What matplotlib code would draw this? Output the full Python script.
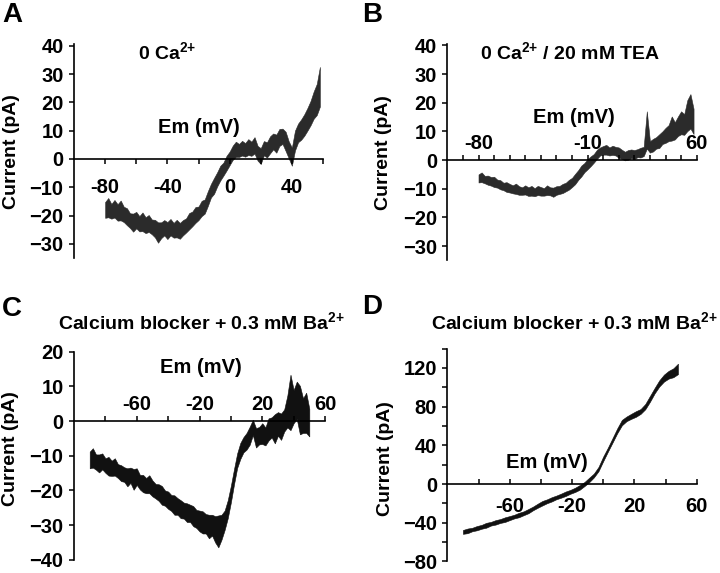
import matplotlib
matplotlib.use("Agg")
import numpy as np
import matplotlib.pyplot as plt

# membrane potential (mV) and current (pA)
# *_mid is the middle of the noisy trace, *_spread is half its thickness

a_mv = list(range(-80, 60, 2))
a_mid = [-18.0, -17.2, -18.5, -17.6, -18.9, -18.2, -19.6, -20.4, -21.8, -22.5,
         -21.6, -22.9, -22.2, -23.4, -22.8, -24.0, -24.6, -26.0, -25.2, -24.3,
         -25.3, -24.1, -25.2, -24.6, -25.4, -24.3, -23.5, -22.0, -21.2, -19.8,
         -19.2, -17.5, -16.8, -14.0, -11.2, -9.5, -7.2, -5.0, -3.6, -1.5,
         0.2, 2.2, 3.4, 3.0, 3.8, 3.2, 4.2, 3.6, 4.8, 2.0,
         1.0, 3.8, 3.2, 5.0, 6.2, 5.4, 7.6, 8.0, 6.2, 3.2,
         0.8, 6.5, 9.2, 10.4, 12.0, 14.0, 16.2, 19.0, 21.0, 25.5]
a_spread = [2.8, 3.4, 2.6, 3.1, 2.9, 3.5, 2.7, 3.0, 2.6, 3.2,
            2.9, 2.7, 3.3, 2.8, 3.0, 2.6, 3.1, 3.6, 2.8, 2.7,
            3.0, 2.9, 2.6, 3.1, 2.8, 2.7, 2.5, 2.9, 2.6, 2.8,
            2.4, 2.7, 2.5, 2.6, 2.4, 2.8, 2.5, 2.6, 2.3, 2.6,
            2.4, 2.5, 2.7, 2.3, 2.6, 2.4, 2.8, 2.5, 2.9, 2.6,
            2.8, 2.5, 2.7, 3.0, 2.8, 3.2, 3.0, 2.7, 3.4, 3.0,
            3.2, 3.5, 3.3, 3.6, 3.8, 4.0, 4.3, 4.8, 5.5, 7.0]

b_mv = list(range(-80, 60, 2))
b_mid = [-6.4, -6.0, -6.8, -7.0, -7.4, -7.6, -8.2, -8.6, -9.2, -9.4,
         -9.8, -10.2, -10.0, -10.6, -10.8, -10.4, -11.0, -10.7, -11.2, -10.6,
         -10.9, -11.1, -10.5, -10.9, -11.2, -10.6, -10.4, -9.9, -9.4, -8.6,
         -7.8, -6.6, -5.2, -3.8, -2.6, -1.4, -0.4, 0.6, 2.0, 3.0,
         3.4, 3.6, 3.0, 3.4, 3.1, 2.6, 2.0, 1.4, 1.8, 2.2,
         1.9, 2.4, 2.6, 3.0, 10.5, 4.6, 5.2, 6.0, 6.6, 7.8,
         8.6, 9.4, 11.0, 10.2, 11.8, 13.0, 12.4, 15.5, 17.0, 13.5]
b_spread = [1.4, 1.7, 1.3, 1.6, 1.5, 1.8, 1.4, 1.6, 1.3, 1.7,
            1.5, 1.4, 1.8, 1.5, 1.3, 1.6, 1.5, 1.7, 1.4, 1.6,
            1.5, 1.3, 1.7, 1.4, 1.6, 1.5, 1.4, 1.6, 1.5, 1.7,
            1.6, 1.8, 1.7, 1.9, 1.6, 1.8, 1.7, 1.5, 1.6, 1.4,
            1.5, 1.7, 1.4, 1.6, 1.5, 1.8, 1.6, 1.5, 1.7, 1.5,
            1.6, 1.4, 1.7, 1.6, 6.5, 2.0, 2.2, 2.0, 2.4, 2.2,
            2.6, 2.8, 4.2, 3.0, 3.4, 4.0, 3.6, 5.4, 6.0, 4.4]

c_mv = list(range(-90, 52, 2))
c_mid = [-11.2, -10.6, -11.8, -12.2, -11.6, -12.8, -13.0, -13.6, -13.2, -14.4,
         -15.0, -15.4, -16.2, -15.6, -16.8, -16.0, -17.6, -18.0, -18.6, -18.2,
         -19.4, -20.2, -20.6, -21.4, -22.2, -22.8, -23.6, -24.2, -24.6, -25.4,
         -25.8, -26.4, -26.6, -27.4, -28.2, -28.8, -29.2, -29.6, -30.4, -30.0,
         -31.2, -31.8, -30.6, -28.6, -25.4, -21.0, -16.0, -11.4, -8.6, -6.8,
         -5.8, -4.2, -1.8, -4.8, -4.2, -3.6, -4.4, -2.4, -1.8, -2.2,
         -0.8, -1.6, 0.2, 2.8, 5.4, 4.2, 6.0, 3.2, 1.6, 2.4,
         -0.4]
c_spread = [2.4, 2.8, 2.2, 2.6, 2.3, 2.1, 2.7, 2.2, 2.5, 2.0,
            2.3, 2.1, 2.6, 2.2, 3.0, 2.4, 2.1, 2.5, 2.2, 2.6,
            2.3, 2.1, 2.4, 2.7, 2.2, 2.5, 2.3, 2.8, 2.4, 2.6,
            2.3, 2.7, 2.5, 2.9, 2.6, 3.0, 3.2, 2.8, 3.4, 3.0,
            3.8, 4.6, 3.6, 2.8, 2.6, 2.4, 2.2, 2.1, 2.3, 2.2,
            2.4, 2.6, 2.2, 2.8, 2.5, 3.0, 2.6, 3.2, 2.9, 4.2,
            3.4, 3.8, 3.2, 4.6, 8.0, 4.8, 5.4, 7.0, 5.0, 5.8,
            4.0]

d_mv = list(range(-90, 49, 3))
d_mid = [-49.5, -48.4, -47.0, -45.6, -44.2, -42.6, -41.0, -39.6, -38.2, -36.8,
         -35.2, -33.6, -32.0, -30.2, -28.0, -25.2, -22.4, -19.8, -17.8, -15.8,
         -13.8, -12.0, -10.0, -8.0, -6.0, -3.4, 0.0, 4.2, 8.8, 15.5,
         26.0, 35.5, 45.2, 55.0, 63.5, 67.4, 70.0, 72.4, 75.0, 80.0,
         88.0, 96.5, 104.0, 109.5, 113.0, 115.0, 119.0]
d_spread = [2.0, 2.4, 1.8, 2.2, 2.0, 2.5, 1.9, 2.3, 2.0, 2.4,
            2.1, 1.9, 2.3, 2.0, 2.2, 1.9, 2.1, 2.3, 2.0, 2.2,
            1.9, 2.1, 2.3, 2.0, 2.2, 2.4, 2.1, 2.3, 2.0, 2.2,
            2.4, 2.1, 2.3, 2.5, 2.8, 2.4, 2.6, 2.9, 2.5, 2.7,
            3.0, 2.8, 3.2, 3.6, 4.0, 4.6, 5.4]

# axis ticks and labels
a_xticks = [-80, -60, -40, -20, 0, 20, 40, 60]
a_xlabels = ["-80", "", "-40", "", "0", "", "40", ""]
b_xticks = [-90, -80, -70, -60, -50, -40, -30, -20, -10, 0, 10, 20, 30, 40, 50, 60]
b_xlabels = ["", "-80", "", "", "", "", "", "", "-10", "", "", "", "", "", "", "60"]
cd_xticks = [-80, -60, -40, -20, 0, 20, 40, 60]
cd_xlabels = ["", "-60", "", "-20", "", "20", "", "60"]
ab_yticks = [-30, -20, -10, 0, 10, 20, 30, 40]
c_yticks = [-40, -30, -20, -10, 0, 10, 20]
d_yticks = [-80, -40, 0, 40, 80, 120]
d_yminor = [-60, -20, 20, 60, 100, 140]

plt.rcParams["font.family"] = "Liberation Sans"
plt.rcParams["font.weight"] = "bold"
plt.rcParams["mathtext.fontset"] = "custom"
plt.rcParams["mathtext.rm"] = "Liberation Sans:bold"
plt.rcParams["mathtext.it"] = "Liberation Sans:bold"
plt.rcParams["mathtext.bf"] = "Liberation Sans:bold"

TICK_FS = 14.5


def draw_panel(ax, mv, mid, spread, ylim, yticks, xticks, xlabels, side, xdir, xpad, color):
    """One I-V panel: noisy trace as a filled band, x axis crossing at 0 pA"""
    lo = np.array(mid) - np.array(spread)
    hi = np.array(mid) + np.array(spread)
    ax.fill_between(mv, lo, hi, color=color, edgecolor=color, linewidth=0.4)

    ax.set_xlim(-100, 60)
    ax.set_ylim(*ylim)
    ax.spines["right"].set_visible(False)
    ax.spines["left"].set_linewidth(1.2)

    if side == "top":
        ax.spines["bottom"].set_visible(False)
        ax.spines["top"].set_position(("data", 0))
        ax.spines["top"].set_linewidth(1.2)
        ax.xaxis.set_ticks_position("top")
    else:
        ax.spines["top"].set_visible(False)
        ax.spines["bottom"].set_position(("data", 0))
        ax.spines["bottom"].set_linewidth(1.2)
        ax.xaxis.set_ticks_position("bottom")

    ax.set_xticks(xticks)
    ax.set_xticklabels(xlabels)
    ax.set_yticks(yticks)
    ax.tick_params(axis="x", direction=xdir, length=3.5, width=1.1, pad=xpad, labelsize=TICK_FS)
    ax.tick_params(axis="y", direction="out", length=3.5, width=1.1, pad=4, labelsize=TICK_FS)
    ax.patch.set_visible(False)


fig = plt.figure(figsize=(7.2, 5.73), dpi=100)

ax_a = fig.add_axes([0.1028, 0.5497, 0.3458, 0.373])
ax_b = fig.add_axes([0.6213, 0.5454, 0.3463, 0.378])
ax_c = fig.add_axes([0.1028, 0.0230, 0.3486, 0.363])
ax_d = fig.add_axes([0.6213, 0.0202, 0.3463, 0.3714])

# the 0 Ca2+ traces are dotted scatter in the original, so a touch lighter
draw_panel(ax_a, a_mv, a_mid, a_spread, (-35, 40.5), ab_yticks, a_xticks, a_xlabels, "bottom", "out", 10, "#2b2b2b")
draw_panel(ax_b, b_mv, b_mid, b_spread, (-35, 40.5), ab_yticks, b_xticks, b_xlabels, "top", "out", 1.5, "#2b2b2b")
draw_panel(ax_c, c_mv, c_mid, c_spread, (-40, 20), c_yticks, cd_xticks, cd_xlabels, "top", "out", 1.5, "#111111")
draw_panel(ax_d, d_mv, d_mid, d_spread, (-80, 140), d_yticks, cd_xticks, cd_xlabels, "bottom", "in", 9, "#111111")
ax_d.set_yticks(d_yminor, minor=True)
ax_d.tick_params(axis="y", which="minor", direction="out", length=3.5, width=1.1)

# "Em (mV)" labels sit inside each panel
ax_a.text(-20, 11, "Em (mV)", ha="center", va="center", fontsize=14.5)
ax_b.text(-19, 15, "Em (mV)", ha="center", va="center", fontsize=14.5)
ax_c.text(-19, 15.5, "Em (mV)", ha="center", va="center", fontsize=14.5)
ax_d.text(-36, 22, "Em (mV)", ha="center", va="center", fontsize=14.5)

# panel letters
for letter, x, y in [("A", 0.003, 0.997), ("B", 0.503, 0.997), ("C", 0.003, 0.484), ("D", 0.503, 0.487)]:
    fig.text(x, y, letter, ha="left", va="top", fontsize=20)

# condition titles
ca = r"0 Ca$^{2{+}}$"
ba = r"Calcium blocker + 0.3 mM Ba$^{2{+}}$"
fig.text(138 / 720, 1 - 52 / 573, ca, ha="left", va="center", fontsize=14)
fig.text(480 / 720, 1 - 52 / 573, ca + " / 20 mM TEA", ha="left", va="center", fontsize=14)
fig.text(58 / 720, 1 - 322 / 573, ba, ha="left", va="center", fontsize=14)
fig.text(718 / 720, 1 - 322 / 573, ba, ha="right", va="center", fontsize=14)

# y labels
for x, y in [(12, 152), (383, 153), (11, 449), (385, 459)]:
    fig.text(x / 720, 1 - y / 573, "Current (pA)", rotation=90, ha="center", va="center", fontsize=14)

fig.savefig("out.png", dpi=100)
